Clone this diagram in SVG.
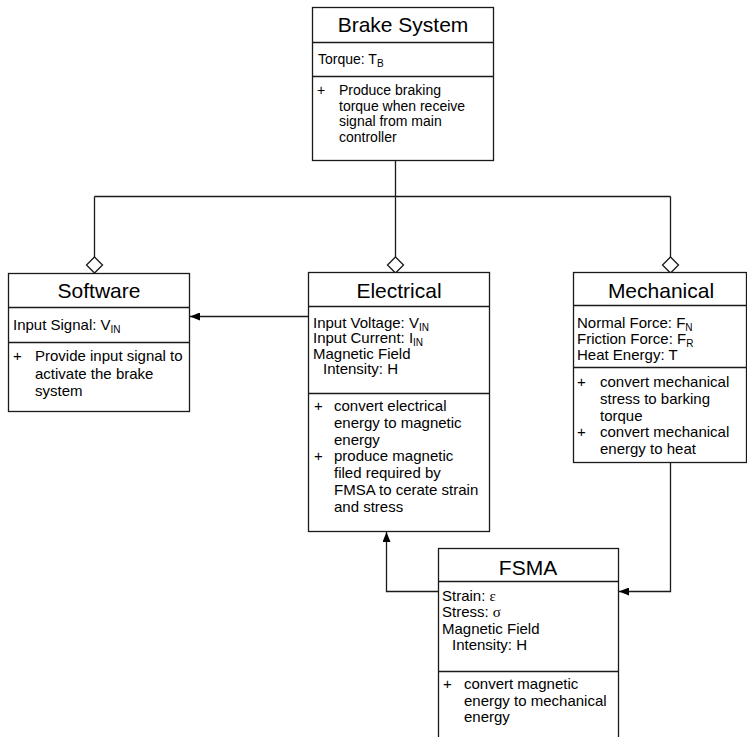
<svg xmlns="http://www.w3.org/2000/svg" width="747" height="737" viewBox="0 0 747 737">
<style>
.box{fill:#fff;stroke:#1a1a1a;stroke-width:1.3}
.ln{fill:none;stroke:#1a1a1a;stroke-width:1.3}
.t{font-family:"Liberation Sans",Arial,sans-serif;fill:#000}
.ti{font-size:21px;text-anchor:middle}
.b{font-size:15px}
.s{font-size:10px}
.g{font-family:"Liberation Serif","Times New Roman",serif}
</style>
<defs>
<marker id="ar" viewBox="0 0 10 8" refX="10" refY="4" markerWidth="10" markerHeight="8" markerUnits="userSpaceOnUse" orient="auto">
<path d="M0,0 L10,4 L0,8 Z" fill="#000"/>
</marker>
</defs>
<g id="connectors">
<path class="ln" d="M395.5,160.5 V196.5 M94.5,196.5 H670.5 M94.5,196.5 V257 M395.5,196.5 V257 M670.5,196.5 V257"/>
<path class="box" d="M94.5,257 L102.5,265 L94.5,273 L86.5,265 Z"/>
<path class="box" d="M395.5,257 L403.5,265 L395.5,273 L387.5,265 Z"/>
<path class="box" d="M670.5,257 L678.5,265 L670.5,273 L662.5,265 Z"/>
<path class="ln" d="M308.5,316.5 H190" marker-end="url(#ar)"/>
<path class="ln" d="M438.5,591.5 H386.5 V532" marker-end="url(#ar)"/>
<path class="ln" d="M670.5,462.5 V591.5 H619" marker-end="url(#ar)"/>
</g>
<g id="brake-system">
<rect class="box" x="312.5" y="7.5" width="181" height="153"/>
<path class="ln" d="M312.5,42.5 H493.5 M312.5,76.5 H493.5"/>
<text class="t ti" x="403" y="32">Brake System</text>
<g class="t" font-size="14px">
<text x="318" y="64">Torque: T<tspan class="s" font-size="9.5px" dy="3">B</tspan></text>
<text x="317" y="95">+</text>
<text x="339" y="95">Produce braking</text>
<text x="339" y="110.7">torque when receive</text>
<text x="339" y="126.4">signal from main</text>
<text x="339" y="142">controller</text>
</g>
</g>
<g id="software">
<rect class="box" x="8.5" y="273.5" width="181" height="138"/>
<path class="ln" d="M8.5,307.5 H189.5 M8.5,342.5 H189.5"/>
<text class="t ti" x="99" y="298">Software</text>
<g class="t b">
<text x="13" y="330">Input Signal: V<tspan class="s" dy="3">IN</tspan></text>
<text x="13" y="361">+</text>
<text x="35" y="361">Provide input signal to</text>
<text x="35" y="378.5">activate the brake</text>
<text x="35" y="396">system</text>
</g>
</g>
<g id="electrical">
<rect class="box" x="308.5" y="272.5" width="181" height="259"/>
<path class="ln" d="M308.5,306.5 H489.5 M308.5,393.5 H489.5"/>
<text class="t ti" x="399" y="298">Electrical</text>
<g class="t b">
<text x="313" y="327.5">Input Voltage: V<tspan class="s" dy="3">IN</tspan></text>
<text x="313" y="343">Input Current: I<tspan class="s" dy="3">IN</tspan></text>
<text x="313" y="358.5">Magnetic Field</text>
<text x="323" y="374">Intensity: H</text>
<text x="314" y="411">+</text>
<text x="334" y="411">convert electrical</text>
<text x="334" y="427.8">energy to magnetic</text>
<text x="334" y="444.6">energy</text>
<text x="314" y="461.4">+</text>
<text x="334" y="461.4">produce magnetic</text>
<text x="334" y="478.2">filed required by</text>
<text x="334" y="495">FMSA to cerate strain</text>
<text x="334" y="511.8">and stress</text>
</g>
</g>
<g id="mechanical">
<rect class="box" x="573.5" y="272.5" width="173" height="190"/>
<path class="ln" d="M573.5,305.5 H746.5 M573.5,367.5 H746.5"/>
<text class="t ti" x="661" y="298" font-size="22px">Mechanical</text>
<g class="t b">
<text x="577" y="328">Normal Force: F<tspan class="s" dy="3">N</tspan></text>
<text x="577" y="344">Friction Force: F<tspan class="s" dy="3">R</tspan></text>
<text x="577" y="360">Heat Energy: T</text>
<text x="577" y="387">+</text>
<text x="600" y="387">convert mechanical</text>
<text x="600" y="403.8">stress to barking</text>
<text x="600" y="420.6">torque</text>
<text x="577" y="437.4">+</text>
<text x="600" y="437.4">convert mechanical</text>
<text x="600" y="454.2">energy to heat</text>
</g>
</g>
<g id="fsma">
<rect class="box" x="438.5" y="548.5" width="180" height="200"/>
<path class="ln" d="M438.5,581.5 H618.5 M438.5,671.5 H618.5"/>
<text class="t ti" x="528" y="575">FSMA</text>
<g class="t b">
<text x="442" y="601">Strain: <tspan class="g">ε</tspan></text>
<text x="442" y="617">Stress: <tspan class="g">σ</tspan></text>
<text x="442" y="634">Magnetic Field</text>
<text x="452" y="650">Intensity: H</text>
<text x="443" y="689">+</text>
<text x="464" y="689">convert magnetic</text>
<text x="464" y="705.5">energy to mechanical</text>
<text x="464" y="722">energy</text>
</g>
</g>
</svg>
